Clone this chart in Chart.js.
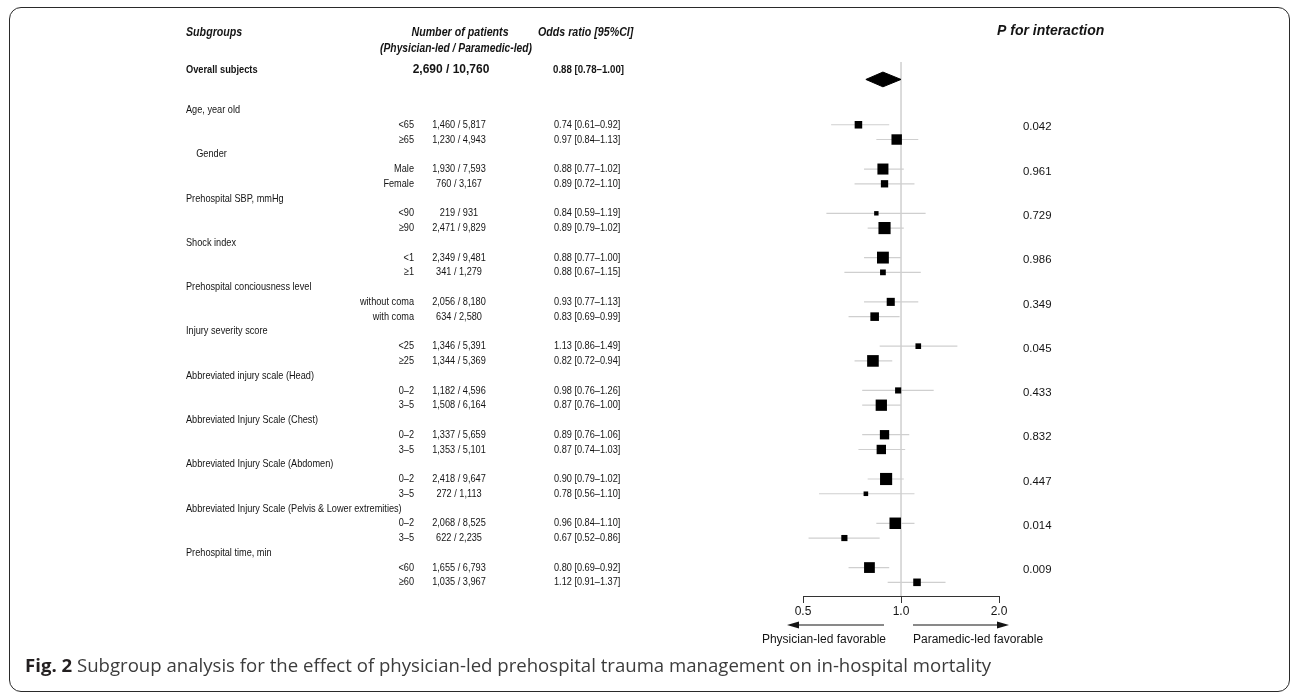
<!DOCTYPE html>
<html>
<head>
<meta charset="utf-8">
<script src="https://cdn.jsdelivr.net/npm/chart.js@4.4.1/dist/chart.umd.min.js"></script>
<style>
html,body{margin:0;padding:0;background:#fff;}
#wrap{position:relative;width:1292px;height:693px;overflow:hidden;background:#fff;}
#frame{position:absolute;left:9px;top:7px;width:1281px;height:685px;box-sizing:border-box;border:1.5px solid #2a2a2a;border-radius:12px;}
#c{position:absolute;left:0;top:0;}
#caption{position:absolute;left:25px;top:652px;font-family:"Open Sans",sans-serif;font-size:18.6px;line-height:26px;color:#3c3c3c;white-space:nowrap;}
#caption b{color:#231f20;font-weight:700;}
</style>
</head>
<body>
<div id="wrap">
  <div id="frame"></div>
  <canvas id="c" width="1292" height="693"></canvas>
  <div id="caption"><b>Fig. 2</b> Subgroup analysis for the effect of physician-led prehospital trauma management on in-hospital mortality</div>
</div>
<script>
// ---------------- DATA ----------------
const groupLabels = [
  "Age, year old",
  "    Gender",
  "Prehospital SBP, mmHg",
  "Shock index",
  "Prehospital conciousness level",
  "Injury severity score",
  "Abbreviated injury scale (Head)",
  "Abbreviated Injury Scale (Chest)",
  "Abbreviated Injury Scale (Abdomen)",
  "Abbreviated Injury Scale (Pelvis & Lower extremities)",
  "Prehospital time, min"
];
const subLabels = [
  "<65", "≥65", "Male", "Female", "<90", "≥90", "<1", "≥1",
  "without coma", "with coma", "<25", "≥25", "0–2", "3–5", "0–2", "3–5",
  "0–2", "3–5", "0–2", "3–5", "<60", "≥60"
];
const nPhysician = [1460, 1230, 1930, 760, 219, 2471, 2349, 341, 2056, 634, 1346, 1344, 1182, 1508, 1337, 1353, 2418, 272, 2068, 622, 1655, 1035];
const nParamedic = [5817, 4943, 7593, 3167, 931, 9829, 9481, 1279, 8180, 2580, 5391, 5369, 4596, 6164, 5659, 5101, 9647, 1113, 8525, 2235, 6793, 3967];
const oddsRatio = [0.74, 0.97, 0.88, 0.89, 0.84, 0.89, 0.88, 0.88, 0.93, 0.83, 1.13, 0.82, 0.98, 0.87, 0.89, 0.87, 0.90, 0.78, 0.96, 0.67, 0.80, 1.12];
const ciLower   = [0.61, 0.84, 0.77, 0.72, 0.59, 0.79, 0.77, 0.67, 0.77, 0.69, 0.86, 0.72, 0.76, 0.76, 0.76, 0.74, 0.79, 0.56, 0.84, 0.52, 0.69, 0.91];
const ciUpper   = [0.92, 1.13, 1.02, 1.10, 1.19, 1.02, 1.00, 1.15, 1.13, 0.99, 1.49, 0.94, 1.26, 1.00, 1.06, 1.03, 1.02, 1.10, 1.10, 0.86, 0.92, 1.37];
const pInteraction = [0.042, 0.961, 0.729, 0.986, 0.349, 0.045, 0.433, 0.832, 0.447, 0.014, 0.009];
const overallLabel = "Overall subjects";
const overallN = [2690, 10760];
const overallOR = [0.88, 0.78, 1.00]; // estimate, lower, upper
const xTicks = [0.5, 1.0, 2.0];
const headerTexts = ["Subgroups", "Number of patients", "(Physician-led / Paramedic-led)", "Odds ratio [95%CI]", "P for interaction"];
const directionLabels = ["Physician-led favorable", "Paramedic-led favorable"];

// ---------------- LAYOUT / STYLE ----------------
const SANS = '"Liberation Sans", Arial, Helvetica, sans-serif';
const INK = '#141414';
const NARROW_X = 0.82;
const Y_MIN = -3.252, Y_MAX = 32.927;
const subRow = i => Math.floor(i / 2) * 3 + 1 + (i % 2);
const groupRow = g => g * 3;
const fmtN = v => v.toLocaleString('en-US');
const fmtOR = (e, l, u) => `${e.toFixed(2)} [${l.toFixed(2)}–${u.toFixed(2)}]`;

const squareData = oddsRatio.map((v, i) => ({ x: v, y: subRow(i) }));
const squareRadius = oddsRatio.map((v, i) => 3.1 / Math.log(ciUpper[i] / ciLower[i]) / Math.SQRT2);
const whiskerData = [];
oddsRatio.forEach((v, i) => {
  whiskerData.push({ x: ciLower[i], y: subRow(i) }, { x: ciUpper[i], y: subRow(i) }, { x: NaN, y: NaN });
});
const DIAMOND_ROW = -2.07, DIAMOND_HALF = 0.5;
const diamondData = [
  { x: overallOR[1], y: DIAMOND_ROW },
  { x: overallOR[0], y: DIAMOND_ROW - DIAMOND_HALF },
  { x: overallOR[2], y: DIAMOND_ROW },
  { x: overallOR[0], y: DIAMOND_ROW + DIAMOND_HALF },
  { x: overallOR[1], y: DIAMOND_ROW }
];
const refLineData = [{ x: 1, y: Y_MIN }, { x: 1, y: Y_MAX }];

function txt(ctx, s, x, y, font, align, sx) {
  ctx.save();
  ctx.font = font;
  ctx.textAlign = align || 'left';
  ctx.translate(x, y);
  ctx.scale(sx || 1, 1);
  ctx.fillText(s, 0, 0);
  ctx.restore();
}

const tablePlugin = {
  id: 'tableText',
  afterDraw(chart) {
    const ctx = chart.ctx;
    const ys = chart.scales.y, xs = chart.scales.x;
    const py = r => ys.getPixelForValue(r);
    ctx.save();
    ctx.fillStyle = INK;
    ctx.textBaseline = 'middle';
    const N = NARROW_X;

    // headers
    const hf = 'italic bold 13px ' + SANS;
    txt(ctx, headerTexts[0], 186, py(-5.28), hf, 'left', N);
    txt(ctx, headerTexts[1], 460, py(-5.28), hf, 'center', N);
    txt(ctx, headerTexts[2], 456, py(-4.17), hf, 'center', 0.79);
    txt(ctx, headerTexts[3], 538, py(-5.28), hf, 'left', N);
    txt(ctx, headerTexts[4], 997, py(-5.35), 'italic bold 14px ' + SANS, 'left');

    // overall row
    const oy = py(-2.71);
    txt(ctx, overallLabel, 186, oy, 'bold 11.3px ' + SANS, 'left', N);
    txt(ctx, fmtN(overallN[0]) + ' / ' + fmtN(overallN[1]), 451, oy, 'bold 12px ' + SANS, 'center');
    txt(ctx, fmtOR(overallOR[0], overallOR[1], overallOR[2]), 553, oy, 'bold 11.8px ' + SANS, 'left', N);

    // groups
    const rf = '11.2px ' + SANS;
    groupLabels.forEach((g, k) => txt(ctx, g, 186, py(groupRow(k)), rf, 'left', N));
    subLabels.forEach((s, i) => {
      const y = py(subRow(i));
      txt(ctx, s, 414, y, rf, 'right', N);
      txt(ctx, fmtN(nPhysician[i]) + ' / ' + fmtN(nParamedic[i]), 459, y, rf, 'center', N);
      txt(ctx, fmtOR(oddsRatio[i], ciLower[i], ciUpper[i]), 554, y, rf, 'left', N);
    });
    pInteraction.forEach((p, k) => txt(ctx, p.toFixed(3), 1023, py(groupRow(k) + 1.17), '11.4px ' + SANS, 'left'));

    // direction arrows
    const x1 = xs.getPixelForValue(1);
    const ay = 625;
    ctx.strokeStyle = INK; ctx.lineWidth = 1.2;
    ctx.beginPath();
    ctx.moveTo(x1 - 17, ay); ctx.lineTo(x1 - 104, ay);
    ctx.moveTo(x1 + 12, ay); ctx.lineTo(x1 + 98, ay);
    ctx.stroke();
    ctx.beginPath();
    ctx.moveTo(x1 - 114, ay); ctx.lineTo(x1 - 102, ay - 3.5); ctx.lineTo(x1 - 102, ay + 3.5); ctx.closePath();
    ctx.moveTo(x1 + 108, ay); ctx.lineTo(x1 + 96, ay - 3.5); ctx.lineTo(x1 + 96, ay + 3.5); ctx.closePath();
    ctx.fill();
    txt(ctx, directionLabels[0], x1 - 15, 640, '12px ' + SANS, 'right');
    txt(ctx, directionLabels[1], x1 + 12, 640, '12px ' + SANS, 'left');
    ctx.restore();
  }
};

new Chart(document.getElementById('c'), {
  type: 'scatter',
  data: {
    datasets: [
      {
        type: 'scatter', data: squareData, order: 0,
        pointStyle: 'rect', pointRadius: squareRadius, pointHoverRadius: squareRadius,
        backgroundColor: '#000', borderWidth: 0
      },
      {
        type: 'line', data: diamondData, order: 1,
        borderColor: '#000', backgroundColor: '#000', borderWidth: 1,
        fill: 'shape', pointRadius: 0, tension: 0
      },
      {
        type: 'line', data: whiskerData, order: 2, spanGaps: false,
        borderColor: '#cfcfcf', borderWidth: 1.2, pointRadius: 0, fill: false, tension: 0
      },
      {
        type: 'line', data: refLineData, order: 3,
        borderColor: '#d6d6d6', borderWidth: 1, pointRadius: 0, fill: false
      }
    ]
  },
  options: {
    responsive: false,
    animation: false,
    events: [],
    layout: { padding: { left: 803, right: 293, top: 62, bottom: 0 } },
    plugins: { legend: { display: false }, tooltip: { enabled: false } },
    scales: {
      x: {
        type: 'logarithmic', min: 0.5, max: 2, position: 'bottom',
        afterBuildTicks: s => { s.ticks = xTicks.map(v => ({ value: v })); },
        afterFit: s => { s.height = 97; },
        ticks: {
          callback: v => Number(v).toFixed(1),
          font: { family: SANS, size: 12 }, color: INK, padding: 1,
          maxRotation: 0, autoSkip: false
        },
        grid: { drawOnChartArea: false, drawTicks: true, tickLength: 7, tickColor: '#333', color: '#333' },
        border: { display: true, color: '#333', width: 1 }
      },
      y: { type: 'linear', reverse: true, min: Y_MIN, max: Y_MAX, display: false }
    }
  },
  plugins: [tablePlugin]
});
</script>
</body>
</html>
